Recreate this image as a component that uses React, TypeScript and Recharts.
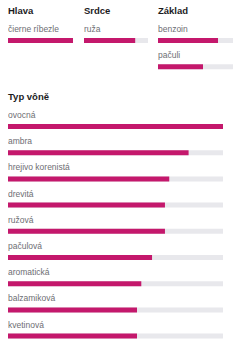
import React from 'react';
import { BarChart, Bar, XAxis, YAxis, LabelList } from 'recharts';

const hlavaNames = ['čierne ríbezle'];
const hlavaValues = [100];
const srdceNames = ['ruža'];
const srdceValues = [80];
const zakladNames = ['benzoin', 'pačuli'];
const zakladValues = [80, 60];

const typNames = ['ovocná', 'ambra', 'hrejivo korenistá', 'drevitá', 'ružová', 'pačulová', 'aromatická', 'balzamiková', 'kvetinová'];
const typValues = [100, 84, 75, 73, 73, 67, 62, 60, 60];

const PINK = '#C4186C';
const TRACK = '#E8E8EC';
const FONT = '"Liberation Sans", Arial, sans-serif';
const PAD = 14;

const toData = (names: string[], values: number[]) => names.map((name, i) => ({ name, value: values[i] }));

const NameLabel = (props: any) => {
  const { x, y, value } = props;
  return (
    <text x={x} y={y - 6} fontSize={8.5} fill="#6e6e73" fontFamily={FONT}>
      {value}
    </text>
  );
};

function Group({ names, values, left, top, width }: { names: string[]; values: number[]; left: number; top: number; width: number }) {
  const data = toData(names, values);
  const band = 26.2;
  return (
    <div style={{ position: 'absolute', left, top: top - PAD }}>
      <BarChart
        width={width}
        height={band * names.length + PAD}
        data={data}
        layout="vertical"
        margin={{ top: PAD, right: 0, bottom: 0, left: 0 }}
      >
        <XAxis type="number" domain={[0, 100]} hide />
        <YAxis type="category" dataKey="name" hide />
        <Bar dataKey="value" fill={PINK} barSize={5} background={{ fill: TRACK }} isAnimationActive={false}>
          <LabelList dataKey="name" content={<NameLabel />} />
        </Bar>
      </BarChart>
    </div>
  );
}

const titleStyle: React.CSSProperties = {
  position: 'absolute',
  fontFamily: FONT,
  fontWeight: 700,
  fontSize: 9.5,
  color: '#1c1c1e',
  lineHeight: '12px',
  whiteSpace: 'nowrap',
};

export default function App() {
  return (
    <div style={{ position: 'fixed', left: 0, top: 0, width: 244, height: 340, background: '#fff', overflow: 'hidden' }}>
      <div style={{ ...titleStyle, left: 8, top: 5 }}>Hlava</div>
      <div style={{ ...titleStyle, left: 84, top: 5 }}>Srdce</div>
      <div style={{ ...titleStyle, left: 158, top: 5 }}>Základ</div>
      <Group names={hlavaNames} values={hlavaValues} left={8} top={27.4} width={65} />
      <Group names={srdceNames} values={srdceValues} left={84} top={27.4} width={64} />
      <Group names={zakladNames} values={zakladValues} left={158} top={27.4} width={75} />
      <div style={{ ...titleStyle, left: 8, top: 91 }}>Typ vôně</div>
      <Group names={typNames} values={typValues} left={8} top={113.4} width={215} />
    </div>
  );
}
